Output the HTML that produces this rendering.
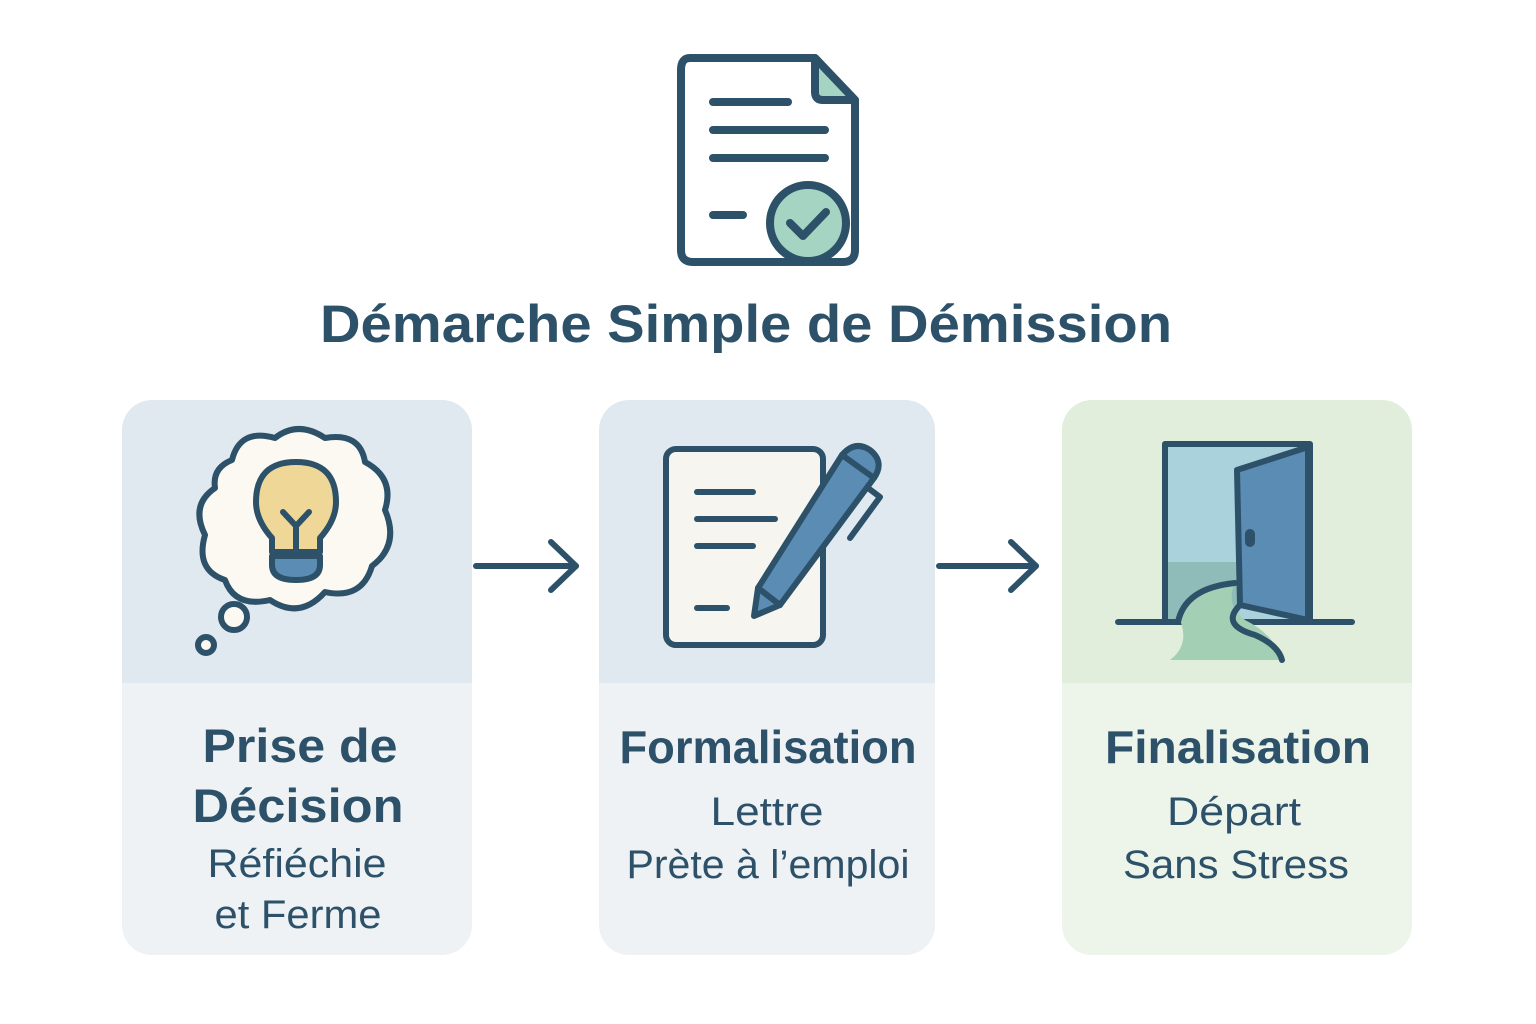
<!DOCTYPE html>
<html><head><meta charset="utf-8"><style>
html,body{margin:0;padding:0;background:#fff;}
svg{display:block}
text{font-family:"Liberation Sans",sans-serif;fill:#2c5169;}
</style></head><body>
<svg width="1536" height="1024" viewBox="0 0 1536 1024" xmlns="http://www.w3.org/2000/svg">
<defs>
<clipPath id="c1"><rect x="122" y="400" width="350" height="555" rx="30"/></clipPath>
<clipPath id="c2"><rect x="599" y="400" width="336" height="555" rx="30"/></clipPath>
<clipPath id="c3"><rect x="1062" y="400" width="350" height="555" rx="30"/></clipPath>
</defs>
<g stroke="#2c5169" stroke-width="8" stroke-linecap="round" stroke-linejoin="round" fill="none">
<path d="M690 58 H815 L855 100 V250 Q855 262 843 262 H693 Q681 262 681 250 V70 Q681 58 690 58 Z" fill="#fff"/>
<path d="M815 58 V92 Q815 100 823 100 H855 Z" fill="#a5d4c3"/>
<line x1="713" y1="102" x2="788" y2="102"/>
<line x1="713" y1="130" x2="825" y2="130"/>
<line x1="713" y1="158" x2="825" y2="158"/>
<line x1="713" y1="215" x2="743" y2="215"/>
<circle cx="808" cy="223" r="38" fill="#a5d4c3"/>
<path d="M790 223 L803 236 L826 212"/>
</g>
<text x="746" y="342" font-size="53" font-weight="bold" text-anchor="middle" textLength="852" lengthAdjust="spacingAndGlyphs">Démarche Simple de Démission</text>

<g clip-path="url(#c1)"><rect x="122" y="400" width="350" height="283" fill="#e0e9ef"/><rect x="122" y="683" width="350" height="272" fill="#eef2f5"/></g>
<g clip-path="url(#c2)"><rect x="599" y="400" width="336" height="283" fill="#e0e9ef"/><rect x="599" y="683" width="336" height="272" fill="#eef2f5"/></g>
<g clip-path="url(#c3)"><rect x="1062" y="400" width="350" height="283" fill="#e2eedc"/><rect x="1062" y="683" width="350" height="272" fill="#edf4ea"/></g>

<g stroke="#2c5169" stroke-width="6" stroke-linecap="round" stroke-linejoin="round" fill="none">
<line x1="476" y1="566" x2="576" y2="566"/><path d="M551 542 L576 566 L551 590"/>
<line x1="939" y1="566" x2="1036" y2="566"/><path d="M1011 542 L1036 566 L1011 590"/>
</g>

<g stroke="#2c5169" stroke-width="6" stroke-linecap="round" stroke-linejoin="round">
<path d="M232 460 Q240 428 275 438 Q298 420 325 438 Q360 432 365 462 Q395 478 385 510 Q400 545 372 566 Q362 600 325 592 Q300 620 270 600 Q235 608 225 580 Q195 570 205 535 Q190 505 215 488 Q212 468 232 460 Z" fill="#fbf9f2"/>
<circle cx="234" cy="617" r="13" fill="#fbf9f2"/>
<circle cx="206" cy="645" r="8" fill="#fbf9f2"/>
<path d="M296 462 Q256 462 256 502 Q256 520 272 538 V552 H320 V538 Q336 520 336 502 Q336 462 296 462 Z" fill="#efd797"/>
<path d="M272 556 H320 V565 Q320 580 296 580 Q272 580 272 565 Z" fill="#5b8cb3"/>
<path d="M283 512 L296 526 L309 512 M296 526 V550" fill="none"/>
</g>

<g stroke="#2c5169" stroke-width="6" stroke-linecap="round" stroke-linejoin="round">
<rect x="666" y="449" width="157" height="196" rx="10" fill="#f6f5ef"/>
<line x1="697" y1="492" x2="753" y2="492"/>
<line x1="697" y1="519" x2="775" y2="519"/>
<line x1="697" y1="546" x2="753" y2="546"/>
<line x1="697" y1="608" x2="727" y2="608"/>
<path d="M842 455 Q855 440 870 450 Q885 462 874 478 L780 605 L754 616 L758 588 Z" fill="#5b8cb3"/>
<path d="M758 588 L780 605" fill="none"/>
<path d="M842 455 L874 478" fill="none"/>
<path d="M868 488 L880 497 L850 538" fill="none"/>
</g>

<g stroke="#2c5169" stroke-width="6" stroke-linecap="round" stroke-linejoin="round">
<rect x="1165" y="444" width="145" height="178" fill="#a9d2dc"/>
<rect x="1168" y="562" width="70" height="58" fill="#8fbcb8" stroke="none"/>
<path d="M1118 622 H1352" fill="none"/>
<path d="M1180 620 Q1190 585 1235 583 Q1225 605 1245 620 Q1275 635 1282 660 H1170 Q1190 645 1180 620 Z" fill="#a3cfb4" stroke="none"/>
<path d="M1178 622 Q1185 588 1235 583" fill="none"/>
<path d="M1237 470 L1308 447 V620 L1240 605 Z" fill="#5b8cb3"/>
<path d="M1240 605 Q1220 625 1255 635 Q1278 645 1282 660" fill="none"/>
<rect x="1248" y="532" width="4" height="12" rx="2" fill="#2c5169"/>
</g>

<g text-anchor="middle" lengthAdjust="spacingAndGlyphs">
<text x="300" y="762" font-size="47" font-weight="bold" textLength="195" lengthAdjust="spacingAndGlyphs">Prise de</text>
<text x="298" y="822" font-size="47" font-weight="bold" textLength="211" lengthAdjust="spacingAndGlyphs">Décision</text>
<text x="297" y="877" font-size="40" textLength="179" lengthAdjust="spacingAndGlyphs">Réfiéchie</text>
<text x="298" y="928" font-size="40" textLength="167" lengthAdjust="spacingAndGlyphs">et Ferme</text>
<text x="768" y="763" font-size="46" font-weight="bold" textLength="297" lengthAdjust="spacingAndGlyphs">Formalisation</text>
<text x="767" y="825" font-size="40" textLength="113" lengthAdjust="spacingAndGlyphs">Lettre</text>
<text x="768" y="878" font-size="40" textLength="283" lengthAdjust="spacingAndGlyphs">Prète à l’emploi</text>
<text x="1238" y="763" font-size="46" font-weight="bold" textLength="266" lengthAdjust="spacingAndGlyphs">Finalisation</text>
<text x="1234" y="825" font-size="40" textLength="134" lengthAdjust="spacingAndGlyphs">Départ</text>
<text x="1236" y="878" font-size="40" textLength="226" lengthAdjust="spacingAndGlyphs">Sans Stress</text>
</g>
</svg>
</body></html>
